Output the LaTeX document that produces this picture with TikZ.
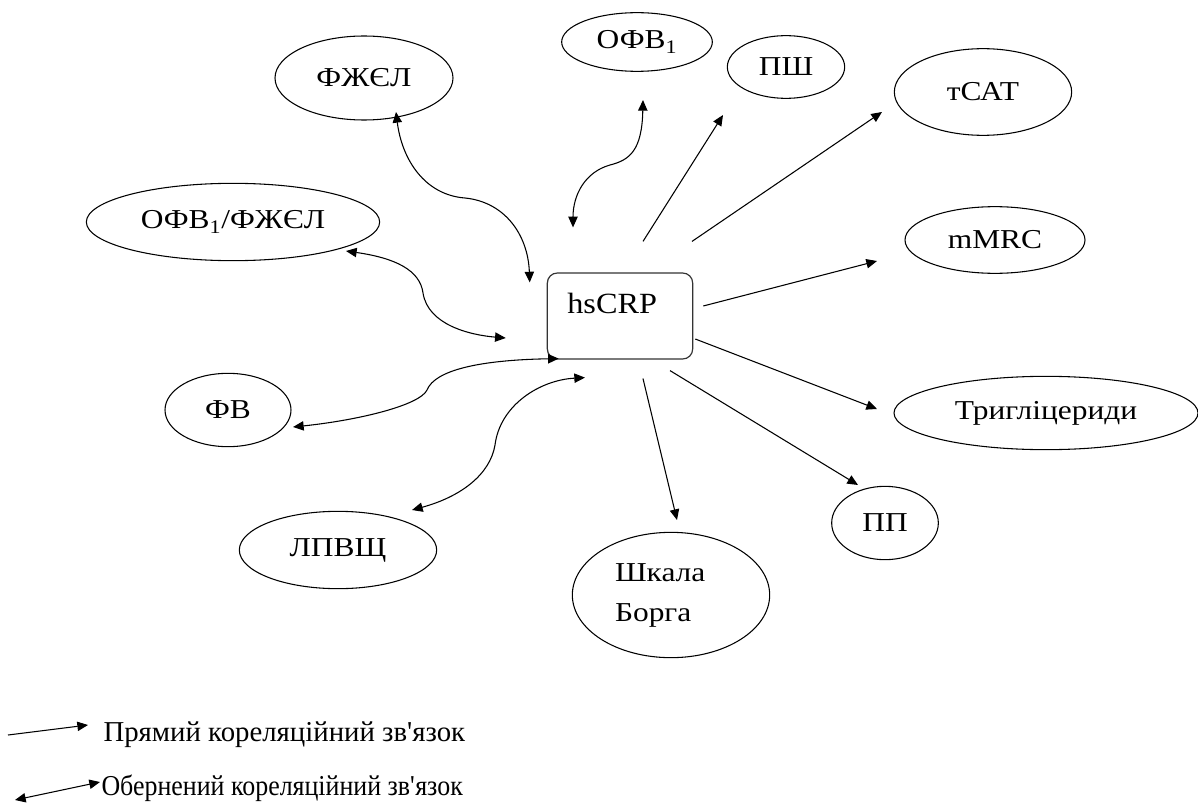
\documentclass[tikz,border=0pt]{standalone}
\usepackage{fontspec}
\setmainfont{Liberation Serif}
\newfontfamily\factorfont[FakeStretch=1.15]{Liberation Serif}
\newfontfamily\markerfont[FakeStretch=1.1]{Liberation Serif}
\newfontfamily\narrowfont[FakeStretch=0.9]{Liberation Serif}
\usetikzlibrary{arrows.meta,positioning,shapes.geometric,calc}

\begin{document}
\begin{tikzpicture}[
    x=0.75pt, y=-0.75pt,
    >={Triangle[length=8pt,width=7pt]},
    every path/.style={line width=0.8pt},
    factor/.style={
        ellipse, draw=black, line width=0.8pt, inner sep=0pt,
        align=center, font=\factorfont\fontsize{20.5}{24}\selectfont
    },
    marker/.style={
        rectangle, rounded corners=7.5pt, draw=black!80, line width=0.9pt,
        minimum width=109pt, minimum height=64.5pt,
        text width=79pt, align=left, inner xsep=15pt,
        text height=15pt, text depth=19.5pt,
        font=\markerfont\fontsize{22}{26}\selectfont
    },
    direct/.style={->, draw=black, line width=0.8pt},
    inverse/.style={<->, draw=black, line width=0.8pt},
    legendtxt/.style={anchor=west, inner sep=0pt},
]

\useasboundingbox (0,0) rectangle (1198,806);

% =====================================================
% Central marker and factors
% =====================================================

\node[marker] (hscrp) at (620,316) {hsCRP};

\node[factor, minimum width=133.5pt, minimum height=63pt] (fjel)    at (364,78)  {ФЖЄЛ};
\node[factor, minimum width=113pt,   minimum height=44pt] (ofv)     at (637,42)  {ОФВ\textsubscript{1}};
\node[factor, minimum width=88pt,    minimum height=47pt] (psh)     at (786,67)  {ПШ};
\node[factor, minimum width=133pt,   minimum height=65pt] (tsat)    at (983,92)  {тСАТ};
\node[factor, minimum width=220pt,   minimum height=58pt] (ofvfjel) at (233,222) {ОФВ\textsubscript{1}/ФЖЄЛ};
\node[factor, minimum width=135pt,   minimum height=50pt] (mmrc)    at (995,240) {mMRC};
\node[factor, minimum width=94.5pt,  minimum height=55pt] (fv)      at (228,410) {ФВ};
\node[factor, minimum width=228pt,   minimum height=55pt] (tryg)    at (1046,413) {Тригліцериди};
\node[factor, minimum width=148pt,   minimum height=94pt,
      text width=84pt, align=left] (borg) at (671,595) {Шкала\\[6pt]Борга};
\node[factor, minimum width=148pt,   minimum height=58pt] (lpvshch) at (338,550) {ЛПВЩ};
\node[factor, minimum width=80pt,    minimum height=55pt] (pp)      at (885,523) {ПП};

% =====================================================
% Direct correlations
% =====================================================

\draw[direct] ($(hscrp.north)+(23,-31)$) -- ($(psh)+(-63,48)$);
\draw[direct] ($(hscrp.north)+(72,-31)$) -- ($(tsat)+(-101,20)$);
\draw[direct] ($(hscrp.east)+(10,-10)$)  -- ($(mmrc)+(-118,21)$);
\draw[direct] ($(hscrp.east)+(2,23)$)    -- ($(tryg)+(-169,-4)$);
\draw[direct] ($(hscrp.south)+(50,11)$)  -- ($(pp)+(-27,-38)$);
\draw[direct] ($(hscrp.south)+(23,19)$)  -- ($(borg)+(6,-75)$);

% =====================================================
% Inverse correlations
% =====================================================

\draw[inverse] ($(fjel)+(32,34)$)
    .. controls (402,160) and (425,195) .. (465,198)
    .. controls (505,202) and (528,235) .. ($(hscrp.north west)+(-17,10)$);
\draw[inverse] ($(ofv)+(6,58)$)
    .. controls (642,150) and (630,160) .. (610,165)
    .. controls (585,172) and (573,195) .. ($(hscrp.north)+(-47,-45)$);
\draw[inverse] ($(ofvfjel)+(113,29)$)
    .. controls (395,258) and (420,270) .. (423,293)
    .. controls (428,325) and (470,335) .. ($(hscrp.west)+(-41,22)$);
\draw[inverse] ($(fv)+(65,17)$)
    .. controls (360,420) and (420,405) .. (427,390)
    .. controls (435,370) and (480,360) .. ($(hscrp.south west)+(12,-1)$);
\draw[inverse] ($(lpvshch)+(74,-40)$)
    .. controls (460,497) and (490,475) .. (495,445)
    .. controls (500,405) and (540,380) .. ($(hscrp.south)+(-35,18)$);

% =====================================================
% Legend
% =====================================================

\node[legendtxt, font=\fontsize{21.6}{25}\selectfont] (lgdirect) at (103,735)
    {Прямий кореляційний зв\textquotesingle язок};
\node[legendtxt, font=\narrowfont\fontsize{21.6}{25}\selectfont] (lginverse) at (101,788)
    {Обернений кореляційний зв\textquotesingle язок};

\draw[direct]  ($(lgdirect.west)+(-95,0)$)   -- ($(lgdirect.west)+(-15,-10)$);
\draw[inverse] ($(lginverse.west)+(-86,12)$) -- ($(lginverse.west)+(-1,-6)$);

\end{tikzpicture}
\end{document}
